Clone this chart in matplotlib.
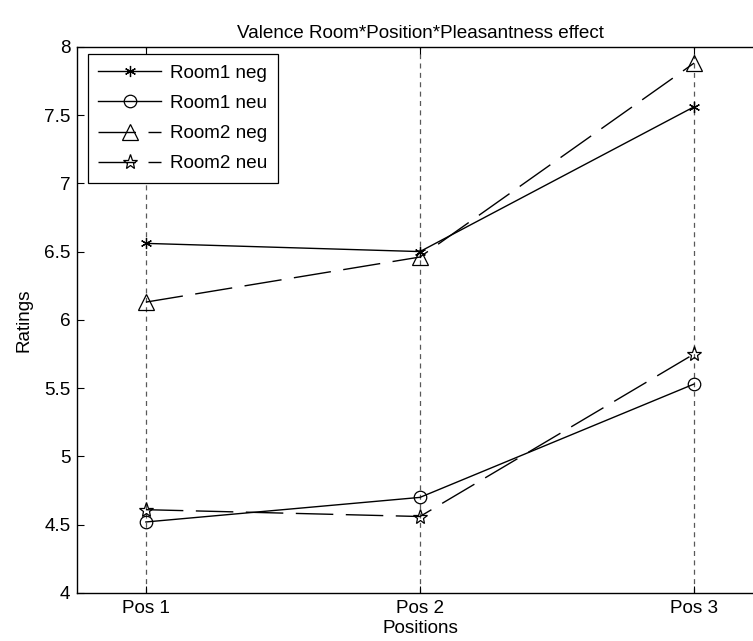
import matplotlib
matplotlib.use("Agg")
import matplotlib.pyplot as plt

plt.rcParams['font.family'] = ['Liberation Sans', 'DejaVu Sans']

positions = [1, 2, 3]
pos_labels = ["Pos 1", "Pos 2", "Pos 3"]
room1_neg = [6.56, 6.50, 7.56]
room1_neu = [4.52, 4.70, 5.53]
room2_neg = [6.13, 6.46, 7.88]
room2_neu = [4.61, 4.56, 5.75]
y_ticks = [4, 4.5, 5, 5.5, 6, 6.5, 7, 7.5, 8]
y_ticklabels = ["4", "4.5", "5", "5.5", "6", "6.5", "7", "7.5", "8"]

FS = 13.6

fig = plt.figure(figsize=(7.53, 6.41), dpi=100)
ax = fig.add_axes([0.1027, 0.0749, 0.910, 0.8522])

for p in positions:
    ax.axvline(p, color='0.35', linestyle=(0, (4, 3.5)), linewidth=0.9, zorder=1)

dash = (0, (27, 9))
asterisk = (6, 2, 0)
ax.plot(positions, room1_neg, color='black', linewidth=1, marker=asterisk,
        markersize=8, markeredgewidth=0.9, label='Room1 neg', zorder=3)
ax.plot(positions, room1_neu, color='black', linewidth=1, marker='o',
        markersize=9, markerfacecolor='none', markeredgewidth=0.9, label='Room1 neu', zorder=3)
ax.plot(positions, room2_neg, color='black', linewidth=1, linestyle=dash, marker='^',
        markersize=11, markerfacecolor='none', markeredgewidth=0.9, label='Room2 neg', zorder=3)
ax.plot(positions, room2_neu, color='black', linewidth=1, linestyle=dash, marker='*',
        markersize=11, markerfacecolor='none', markeredgewidth=0.9, label='Room2 neu', zorder=3)

ax.set_xlim(0.75, 3.25)
ax.set_ylim(4, 8)
ax.set_xticks(positions)
ax.set_xticklabels(pos_labels)
ax.set_yticks(y_ticks)
ax.set_yticklabels(y_ticklabels)
ax.tick_params(direction='in', top=True, right=True, labelsize=FS, length=5, width=0.8, pad=5)
for s in ax.spines.values():
    s.set_linewidth(1.0)

ax.set_title('Valence Room*Position*Pleasantness effect', fontsize=FS, pad=6)
ax.set_xlabel('Positions', fontsize=FS, labelpad=2)
ax.set_ylabel('Ratings', fontsize=FS, labelpad=8)

leg = ax.legend(loc='upper left', bbox_to_anchor=(0.0155, 0.986), fontsize=FS,
                fancybox=False, edgecolor='black', framealpha=1, handlelength=3.3,
                labelspacing=0.68, borderpad=0.55, handletextpad=0.5, borderaxespad=0)
leg.get_frame().set_linewidth(0.9)

fig.savefig('out.png', dpi=100)
